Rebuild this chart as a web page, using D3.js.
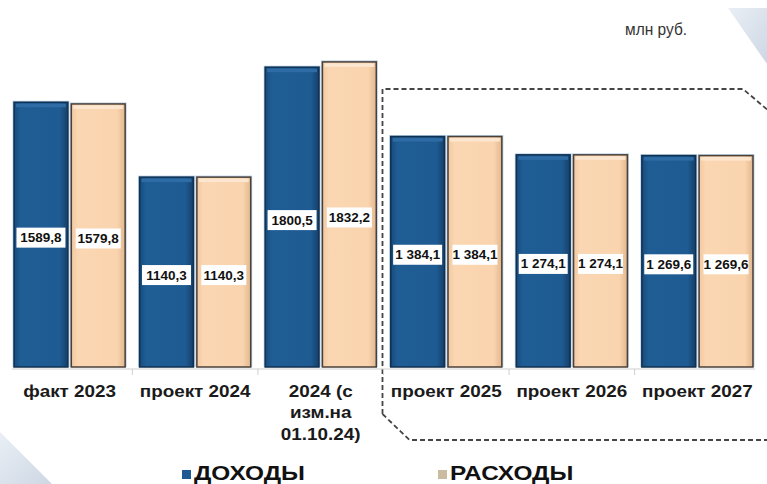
<!DOCTYPE html>
<html>
<head>
<meta charset="utf-8">
<script src="https://cdn.jsdelivr.net/npm/d3@7"></script>
<style>
  html, body { margin: 0; padding: 0; background: #fff; }
  svg { display: block; }
</style>
</head>
<body>
<div id="chart"></div>
<script>
// данные
const categories = ['факт 2023', 'проект 2024', '2024 (с|изм.на|01.10.24)', 'проект 2025', 'проект 2026', 'проект 2027'];
const seriesNames = ['ДОХОДЫ', 'РАСХОДЫ'];
const incomeValues = [1589.8, 1140.3, 1800.5, 1384.1, 1274.1, 1269.6];
const expenseValues = [1579.8, 1140.3, 1832.2, 1384.1, 1274.1, 1269.6];
const valueLabels = [
  ['1589,8', '1579,8'],
  ['1140,3', '1140,3'],
  ['1800,5', '1832,2'],
  ['1 384,1', '1 384,1'],
  ['1 274,1', '1 274,1'],
  ['1 269,6', '1 269,6']
];
const unitLabel = 'млн руб.';

const width = 767;
const height = 484;
const baseY = 367;
const stretch = 1.18; // текст на картинке растянут по горизонтали

const svg = d3.select('#chart').append('svg')
  .attr('width', width)
  .attr('height', height);

const defs = svg.append('defs');

// градиенты столбцов
const gBlue = defs.append('linearGradient').attr('id', 'blueGrad')
  .attr('x1', '0%').attr('y1', '0%').attr('x2', '100%').attr('y2', '0%');
gBlue.append('stop').attr('offset', '0%').style('stop-color', '#174b7c');
gBlue.append('stop').attr('offset', '12%').style('stop-color', '#1f5d95');
gBlue.append('stop').attr('offset', '85%').style('stop-color', '#1e5b92');
gBlue.append('stop').attr('offset', '100%').style('stop-color', '#153f68');

const gPeach = defs.append('linearGradient').attr('id', 'peachGrad')
  .attr('x1', '0%').attr('y1', '0%').attr('x2', '100%').attr('y2', '0%');
gPeach.append('stop').attr('offset', '0%').style('stop-color', '#f3c9a0');
gPeach.append('stop').attr('offset', '12%').style('stop-color', '#fad6b2');
gPeach.append('stop').attr('offset', '85%').style('stop-color', '#f9d4ae');
gPeach.append('stop').attr('offset', '100%').style('stop-color', '#e2b78e');

const gCorner = defs.append('linearGradient').attr('id', 'cornerGrad')
  .attr('x1', '0%').attr('y1', '0%').attr('x2', '100%').attr('y2', '100%');
gCorner.append('stop').attr('offset', '0%').style('stop-color', '#eaeff5');
gCorner.append('stop').attr('offset', '100%').style('stop-color', '#cdd7e4');

// уголки фона
svg.append('path')
  .attr('d', 'M728,8 L767,8 L767,64 Z')
  .attr('fill', 'url(#cornerGrad)');
svg.append('path')
  .attr('d', 'M0,432 L52,484 L0,484 Z')
  .attr('fill', 'url(#cornerGrad)');

// шкалы
const x0 = d3.scaleBand()
  .domain(categories)
  .range([7, 760])
  .paddingInner(0.115)
  .paddingOuter(0.056);

const x1 = d3.scaleBand()
  .domain(seriesNames)
  .range([0, x0.bandwidth()])
  .paddingInner(0.06);

const y = d3.scaleLinear()
  .domain([0, 2204])
  .range([baseY, 0]);

const rows = categories.map((c, i) => ({
  cat: c,
  vals: [
    { s: seriesNames[0], v: incomeValues[i], label: valueLabels[i][0] },
    { s: seriesNames[1], v: expenseValues[i], label: valueLabels[i][1] }
  ]
}));

// пунктирная рамка прогноза
const step = x0.step();
const boxLeft = x0(categories[3]) - (step - x0.bandwidth()) / 2 - 1;
svg.append('path')
  .attr('d', `M${boxLeft},414 L${boxLeft},89 L743,89 L770,112` +
             ` M${boxLeft},414 L${boxLeft + 27},440 L770,440`)
  .attr('fill', 'none')
  .attr('stroke', '#444')
  .attr('stroke-width', 1.8)
  .attr('stroke-dasharray', '5,3');

// ось
const axisG = svg.append('g');
axisG.append('line')
  .attr('x1', x0(categories[0]) - 2)
  .attr('x2', x0(categories[5]) + x0.bandwidth() + 2)
  .attr('y1', baseY + 2)
  .attr('y2', baseY + 2)
  .attr('stroke', '#cfcfcf')
  .attr('stroke-width', 1);
axisG.selectAll('.tick')
  .data(categories.slice(1))
  .enter()
  .append('line')
  .attr('x1', d => x0(d) - (step - x0.bandwidth()) / 2)
  .attr('x2', d => x0(d) - (step - x0.bandwidth()) / 2)
  .attr('y1', baseY + 2)
  .attr('y2', baseY + 8)
  .attr('stroke', '#cfcfcf');

// столбцы
const groups = svg.selectAll('.grp')
  .data(rows)
  .enter()
  .append('g')
  .attr('class', 'grp')
  .attr('transform', d => `translate(${x0(d.cat)},0)`);

const bars = groups.selectAll('.bar')
  .data(d => d.vals)
  .enter()
  .append('g')
  .attr('class', 'bar');

// светлый ореол
bars.append('rect')
  .attr('x', d => x1(d.s) - 1.5)
  .attr('y', d => y(d.v) - 1.5)
  .attr('width', x1.bandwidth() + 3)
  .attr('height', d => baseY - y(d.v) + 1.5)
  .attr('fill', '#b9d0e8');

bars.append('rect')
  .attr('x', d => x1(d.s))
  .attr('y', d => y(d.v))
  .attr('width', x1.bandwidth())
  .attr('height', d => baseY - y(d.v))
  .attr('fill', d => d.s === seriesNames[0] ? 'url(#blueGrad)' : 'url(#peachGrad)')
  .attr('stroke', d => d.s === seriesNames[0] ? '#10304f' : '#4a4038')
  .attr('stroke-width', 1.5);

// верхняя фаска
bars.append('rect')
  .attr('x', d => x1(d.s) + 2)
  .attr('y', d => y(d.v) + 1.5)
  .attr('width', x1.bandwidth() - 4)
  .attr('height', 3.5)
  .attr('fill', d => d.s === seriesNames[0] ? '#2f6ca5' : '#fde6d0');

// подписи значений
const lbl = bars.append('g')
  .attr('transform', d => `translate(${x1(d.s) + x1.bandwidth() / 2},${(y(d.v) + baseY) / 2 + 3})`);

lbl.append('rect')
  .attr('x', d => d.s === seriesNames[0] ? -24.5 : -22.5)
  .attr('y', -10)
  .attr('width', d => d.s === seriesNames[0] ? 49 : 45)
  .attr('height', 20)
  .attr('fill', '#fff');

lbl.append('text')
  .attr('text-anchor', 'middle')
  .attr('dy', '0.36em')
  .attr('transform', 'scale(1.08,1)')
  .style('font-family', 'Liberation Sans, Arial, sans-serif')
  .style('font-weight', 'bold')
  .style('font-size', '12.5px')
  .style('fill', '#111')
  .text(d => d.label);

// подписи категорий
const catText = svg.selectAll('.cat')
  .data(categories)
  .enter()
  .append('g')
  .attr('transform', d => `translate(${x0(d) + x0.bandwidth() / 2},397) scale(${stretch},1)`)
  .append('text')
  .attr('text-anchor', 'middle')
  .style('font-family', 'Liberation Sans, Arial, sans-serif')
  .style('font-weight', 'bold')
  .style('font-size', '16px')
  .style('fill', '#1a1a1a');

catText.selectAll('tspan')
  .data(d => d.split('|'))
  .enter()
  .append('tspan')
  .attr('x', 0)
  .attr('y', (d, i) => i * 21.5)
  .text(d => d);

// единицы
svg.append('g')
  .attr('transform', 'translate(625,35) scale(1.0,1.05)')
  .append('text')
  .style('font-family', 'Liberation Sans Narrow, Liberation Sans, Arial, sans-serif')
  .style('font-size', '15.5px')
  .style('fill', '#333')
  .text(unitLabel);

// легенда
const legendColors = ['#1f5a92', '#cbbba0'];
const legendX = [182, 438];
const legend = svg.selectAll('.leg')
  .data(seriesNames)
  .enter()
  .append('g')
  .attr('transform', (d, i) => `translate(${legendX[i]},0)`);

legend.append('rect')
  .attr('x', 0)
  .attr('y', 470)
  .attr('width', 9)
  .attr('height', 9)
  .attr('fill', (d, i) => legendColors[i]);

legend.append('g')
  .attr('transform', `translate(12,480) scale(1.22,1)`)
  .append('text')
  .style('font-family', 'Liberation Sans, Arial, sans-serif')
  .style('font-weight', 'bold')
  .style('font-size', '20px')
  .style('fill', '#111')
  .text(d => d);
</script>
</body>
</html>
